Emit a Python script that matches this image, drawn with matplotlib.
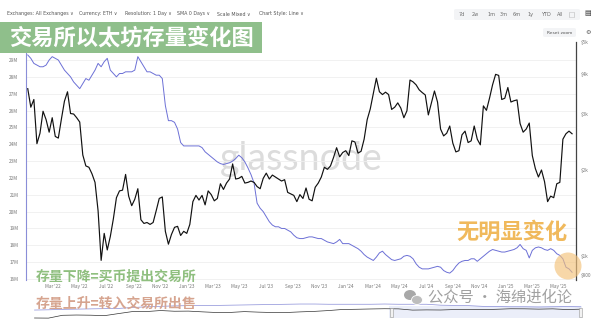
import matplotlib
matplotlib.use('Agg')
import matplotlib.pyplot as plt
import matplotlib.dates as mdates
import matplotlib.patches as mpatches
import numpy as np
import pandas as pd

plt.rcParams['font.family'] = ['Noto Sans CJK SC', 'DejaVu Sans']

W, H = 600, 323

# weekly samples starting 2022-01-02
first_week = '2022-01-02'
eth_price_usd = [
    3600, 3150, 3330, 2420, 2610, 3060, 2880, 2630, 2920, 2550, 2520, 2890, 3290, 3520,
    3010, 3000, 2920, 2830, 2230, 2060, 2040, 1940, 1810, 1440, 950, 1200, 1050, 1170,
    1350, 1600, 1690, 1700, 1930, 1620, 1500, 1580, 1720, 1340, 1300, 1310, 1290, 1310,
    1440, 1590, 1610, 1220, 1100, 1190, 1260, 1270, 1180, 1220, 1200, 1290, 1550, 1630,
    1570, 1630, 1510, 1690, 1640, 1560, 1590, 1790, 1710, 1800, 1860, 2090, 1860, 1870,
    1900, 1800, 1810, 1830, 1810, 1750, 1720, 1870, 1950, 1860, 1920, 1890, 1860, 1830,
    1850, 1670, 1650, 1630, 1550, 1640, 1590, 1730, 1580, 1560, 1740, 1800, 1890, 2040,
    2010, 2060, 2190, 2350, 2200, 2270, 2300, 2220, 2470, 2450, 2260, 2290, 2500, 2880,
    3110, 3480, 3880, 3520, 3450, 3510, 3450, 3100, 3150, 3250, 3130, 2920, 3070, 3830,
    3780, 3700, 3570, 3500, 3440, 2980, 3250, 3540, 3270, 2690, 2560, 2610, 2750, 2430,
    2280, 2300, 2580, 2650, 2440, 2470, 2750, 2500, 2400, 3180, 3080, 3360, 3700, 3990,
    3960, 3330, 3360, 3630, 3270, 3300, 3320, 2800, 2630, 2690, 2810, 2220, 2020, 1890,
    2000, 1820, 1550, 1620, 1600, 1790, 1810, 2500, 2600, 2650, 2600,
]
exch_balance_m = [
    29.3, 29.1, 28.8, 28.7, 28.6, 28.6, 28.7, 29.0, 29.2, 29.1, 29.0, 28.7, 28.4, 28.2,
    28.0, 27.7, 27.5, 27.3, 27.6, 27.9, 27.8, 28.1, 28.4, 28.8, 28.6, 28.9, 29.1, 28.4,
    28.2, 28.0, 28.2, 28.2, 28.3, 28.3, 28.3, 28.4, 29.2, 28.9, 28.6, 28.3, 28.3, 28.2,
    28.1, 28.1, 27.9, 26.3, 25.4, 25.4, 25.3, 24.9, 24.1, 23.9, 23.9, 23.9, 23.9, 23.9,
    23.9, 23.8, 23.55, 23.4, 23.25, 23.1, 22.95, 22.85, 22.8, 22.85, 22.9, 23.0, 23.15, 23.35,
    23.2, 22.95, 22.6, 22.2, 21.7, 20.5, 20.2, 20.0, 19.7, 19.4, 19.2, 19.1, 19.1, 19.0,
    19.0, 18.9, 18.8, 18.6, 18.45, 18.4, 18.4, 18.45, 18.5, 18.5, 18.45, 18.4, 18.4, 18.3,
    18.2, 18.15, 18.1, 18.2, 18.35, 18.1, 18.1, 18.1, 18.0, 17.9, 17.8, 17.65, 17.45, 17.3,
    17.2, 17.1, 17.3, 17.55, 17.65, 17.45, 17.3, 17.15, 17.1, 17.15, 17.2, 17.35, 17.4, 17.35,
    17.2, 16.9, 16.7, 16.6, 16.6, 16.6, 16.65, 16.7, 16.75, 16.7, 16.5, 16.4, 16.35, 16.5,
    16.75, 16.95, 17.05, 17.1, 17.1, 17.2, 17.2, 17.05, 17.2, 17.35, 17.5, 17.65, 17.75, 17.7,
    17.65, 17.6, 17.6, 17.65, 17.7, 17.75, 17.85, 18.05, 17.8, 17.7, 17.25, 17.7, 17.85, 17.9,
    17.85, 17.75, 17.7, 17.8, 17.7, 17.5, 17.4, 17.2, 16.7, 16.6, 16.4,
]

# navigator: whole history, quarterly
nav_start = '2015-09-01'
nav_price_usd = [1, 0.9, 11, 14, 12, 8, 50, 300, 300, 750, 400, 450, 230, 130, 140, 290,
                 180, 130, 130, 230, 360, 740, 1900, 2300, 3000, 3700, 3300, 1100, 1330,
                 1200, 1800, 1930, 1670, 2300, 3600, 3400, 2600, 3330, 1820, 2500]
nav_balance_m = [3, 4, 6, 7, 8, 9, 10, 14, 17, 19, 21, 22, 23, 23, 24, 25, 26, 27, 28, 29,
                 29, 28, 28, 28, 28, 29, 28, 28, 28, 24, 23, 22, 19, 18, 17, 17, 16, 17, 18, 17]

balance_ticks = list(range(16, 30))
price_ticks = [800, 1000, 2000, 3000, 4000, 5000]
price_labels = ['$800', '$1k', '$2k', '$3k', '$4k', '$5k']
month_ticks = pd.date_range('2022-03-01', '2025-05-01', freq='2MS')

toolbar_items = [('Exchanges: All Exchanges', 7), ('Currency: ETH', 79),
                 ('Resolution: 1 Day', 125), ('SMA 0 Days', 177),
                 ('Scale Mixed', 217), ('Chart Style: Line', 259)]
range_buttons = [('7d', 459), ('2w', 472), ('1m', 487), ('3m', 500),
                 ('6m', 513), ('1y', 528), ('YTD', 541), ('All', 557)]

dates = pd.date_range(first_week, periods=len(eth_price_usd), freq='7D')
nav_dates = pd.date_range(nav_start, periods=len(nav_price_usd), freq='3MS')


def fx(x):
    return x / W


def fy(y):
    return 1 - y / H


# glassnode "mixed" price axis: log-like, tick heights
_lp = np.log10([600, 800, 1000, 2000, 3000, 4000, 5000, 7000])
_py = -np.array([299.5, 275, 256, 170, 114, 74, 42, -6.0])


def price_fwd(v):
    v = np.clip(np.asarray(v, dtype=float), 1e-6, None)
    return np.interp(np.log10(v), _lp, _py)


def price_inv(u):
    return 10 ** np.interp(np.asarray(u, dtype=float), _py, _lp)


fig = plt.figure(figsize=(W / 100, H / 100), dpi=100)
fig.patch.set_facecolor('white')

ax = fig.add_axes([fx(26), fy(280), (576 - 26) / W, (280 - 42) / H])
ax.set_facecolor('none')
ax2 = ax.twinx()

# watermark behind the lines
ax.text(0.5, 0.51, 'glassnode', transform=ax.transAxes, ha='center', va='center',
        fontsize=27, color='#dcdcdc', family=['Lato', 'DejaVu Sans'], zorder=0)

ax.plot(dates, exch_balance_m, color='#6c70d6', lw=0.7, zorder=2)
ax2.plot(dates, eth_price_usd, color='#111111', lw=0.85, zorder=3)

ax.set_xlim(pd.Timestamp('2021-12-29'), pd.Timestamp('2025-06-10'))
ax.set_ylim(15.94, 30.07)
ax.set_yticks(balance_ticks)
ax.set_yticklabels([f'{t}M' for t in balance_ticks])
ax.grid(axis='y', color='#efefef', lw=0.6)
ax.set_axisbelow(True)

ax2.set_yscale('function', functions=(price_fwd, price_inv))
ax2.set_ylim(price_inv(-280), price_inv(-42))
ax2.set_yticks(price_ticks)
ax2.set_yticklabels(price_labels)
ax2.yaxis.set_minor_locator(matplotlib.ticker.NullLocator())

ax.set_xticks(month_ticks)
ax.xaxis.set_major_formatter(mdates.DateFormatter("%b '%y"))
ax.xaxis.set_minor_locator(matplotlib.ticker.NullLocator())

for a in (ax, ax2):
    for s in a.spines.values():
        s.set_visible(False)
ax.spines['left'].set_visible(True)
ax.spines['left'].set_color('#8a8ed8')
ax.spines['left'].set_linewidth(0.8)
ax2.spines['right'].set_visible(True)
ax2.spines['right'].set_color('#444444')
ax2.spines['right'].set_linewidth(0.9)

ax.tick_params(axis='y', length=0, pad=5.5, labelsize=3.4, labelcolor='#777777')
ax.tick_params(axis='x', length=0, pad=3, labelsize=3.4, labelcolor='#777777')
ax2.tick_params(axis='y', length=0, pad=3.3, labelsize=3.4, labelcolor='#777777')

# navigator strip
nav = fig.add_axes([fx(25), fy(320), (582 - 25) / W, (320 - 298) / H])
nav.set_facecolor('none')
nav2 = nav.twinx()
nav.plot(nav_dates, nav_price_usd, color='#333333', lw=0.5)
nav.set_yscale('log')
nav.set_ylim(0.17, 10 ** 7.7)
nav2.plot(nav_dates, nav_balance_m, color='#8a8ed8', lw=0.5)
nav2.set_ylim(-40, 55)
nav_lo, nav_hi = pd.Timestamp('2015-07-01'), pd.Timestamp('2025-06-10')
nav.set_xlim(nav_lo, nav_hi)
nav2.set_xlim(nav_lo, nav_hi)
nav.axvspan(pd.Timestamp('2022-01-01'), nav_hi, ymin=0.1, ymax=0.65,
            color='#dfe3f5', alpha=0.6, lw=0)
for a in (nav, nav2):
    a.set_xticks([])
    a.set_yticks([])
    for s in a.spines.values():
        s.set_visible(False)
for hx in (390, 579):
    fig.add_artist(mpatches.Rectangle((fx(hx), fy(317)), 3 / W, 9 / H,
                                      transform=fig.transFigure, facecolor='#f2f2f2',
                                      edgecolor='#999999', lw=0.4))

# toolbar
for label, x in toolbar_items:
    fig.text(fx(x), fy(14), label + ' \u2228', fontsize=3.4, color='#555555',
             va='center', ha='left', family=['DejaVu Sans'])
fig.add_artist(mpatches.FancyBboxPatch((fx(454), fy(20)), 126 / W, 11 / H,
                                       boxstyle='round,pad=0,rounding_size=0.004',
                                       transform=fig.transFigure, facecolor='#f3f4f6',
                                       edgecolor='none'))
for label, x in range_buttons:
    fig.text(fx(x), fy(14.5), label, fontsize=3.6, color='#6b6b6b', va='center',
             ha='left', family=['DejaVu Sans'])
# small zoom-select icon next to "All"
fig.add_artist(mpatches.Rectangle((fx(569), fy(17)), 5 / W, 5 / H,
                                  transform=fig.transFigure, facecolor='none',
                                  edgecolor='#888888', lw=0.4, linestyle=(0, (1, 1))))
fig.text(fx(588), fy(13.5), '\u25a4', fontsize=5, color='#333333', va='center',
         ha='center', family=['DejaVu Sans'])
fig.add_artist(mpatches.FancyBboxPatch((fx(543), fy(37)), 33 / W, 9 / H,
                                       boxstyle='round,pad=0,rounding_size=0.004',
                                       transform=fig.transFigure, facecolor='#f3f4f6',
                                       edgecolor='none'))
fig.text(fx(559.5), fy(32.5), 'Reset zoom', fontsize=3.2, color='#555555', va='center',
         ha='center', family=['DejaVu Sans'])
fig.text(fx(588), fy(32.5), '\u2699', fontsize=4.5, color='#555555', va='center',
         ha='center', family=['DejaVu Sans'])

# title box
fig.add_artist(mpatches.Rectangle((0, fy(53)), 262 / W, 31 / H, transform=fig.transFigure,
                                  facecolor='#8fbf8b', edgecolor='none'))
fig.text(fx(131), fy(38), '交易所以太坊存量变化图', fontsize=16, color='white',
         fontweight='bold', ha='center', va='center')

# annotations
fig.text(fx(36), fy(276.5), '存量下降=买币提出交易所', fontsize=10, color='#8fbf7f',
         fontweight='bold', ha='left', va='center')
fig.text(fx(36), fy(303.5), '存量上升=转入交易所出售', fontsize=10, color='#d6a48f',
         fontweight='bold', ha='left', va='center')
fig.text(fx(512), fy(232), '无明显变化', fontsize=16, color='#f0b95c',
         fontweight='bold', ha='center', va='center')
fig.add_artist(mpatches.Ellipse((fx(568), fy(266)), 27 / W, 27 / H,
                                transform=fig.transFigure, facecolor='#f3c27a',
                                edgecolor='none', alpha=0.65, zorder=10))

# WeChat watermark
fig.add_artist(mpatches.Ellipse((fx(410), fy(295)), 12 / W, 10 / H,
                                transform=fig.transFigure, facecolor='#a8a8a8',
                                edgecolor='none'))
fig.add_artist(mpatches.Ellipse((fx(417), fy(300)), 11 / W, 9 / H,
                                transform=fig.transFigure, facecolor='#bdbdbd',
                                edgecolor='white', lw=0.6))
fig.text(fx(428), fy(297.5), '公众号 · 海绵进化论', fontsize=11, color='#a0a0a0',
         ha='left', va='center')

fig.savefig('out.png', dpi=100)
